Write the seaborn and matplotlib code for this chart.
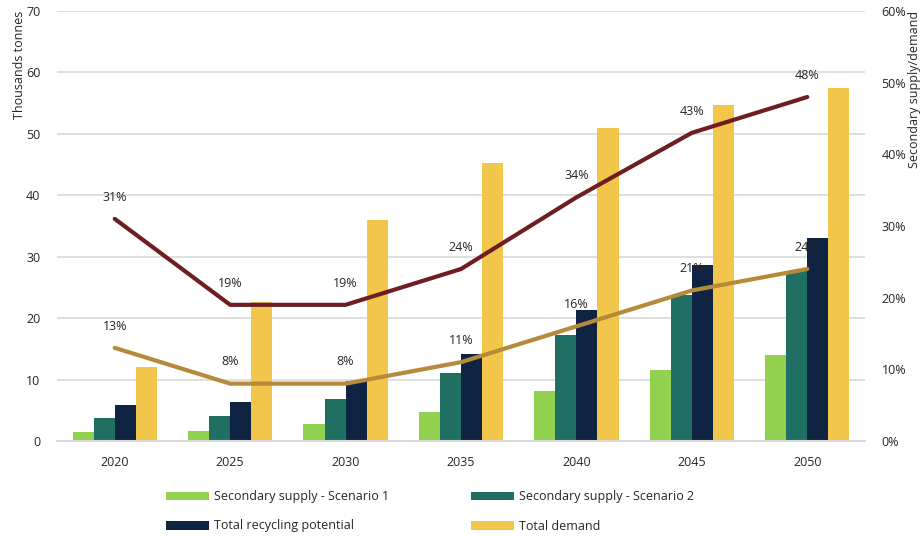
import numpy as np
import pandas as pd
import matplotlib
matplotlib.use("Agg")
import matplotlib.pyplot as plt
import seaborn as sns

years = ["2020", "2025", "2030", "2035", "2040", "2045", "2050"]
supply_s1 = [1.5, 1.7, 2.8, 4.8, 8.1, 11.6, 14.0]
supply_s2 = [3.7, 4.1, 6.9, 11.0, 17.3, 23.7, 27.7]
recycling_potential = [5.9, 6.3, 9.8, 14.2, 21.4, 28.7, 33.1]
total_demand = [12.1, 22.6, 35.9, 45.2, 51.0, 54.7, 57.5]
ratio_s2 = [31, 19, 19, 24, 34, 43, 48]
ratio_s1 = [13, 8, 8, 11, 16, 21, 24]

series_names = ["Secondary supply - Scenario 1", "Secondary supply - Scenario 2",
                "Total recycling potential", "Total demand"]
series_values = [supply_s1, supply_s2, recycling_potential, total_demand]
bar_colors = ["#92D050", "#1F7063", "#0E2442", "#F2C54B"]

df = pd.DataFrame({
    "year": np.repeat([years], 4, axis=0).ravel(),
    "series": np.repeat(series_names, len(years)),
    "value": np.concatenate(series_values),
})

sns.set_theme(style="white")
plt.rcParams["font.family"] = ["Open Sans", "DejaVu Sans"]
text_color = "#262626"
fs = 9

fig = plt.figure(figsize=(9.24, 5.36), dpi=100)
ax = fig.add_axes([57 / 924, 1 - 441 / 536, 808 / 924, 430 / 536])

sns.barplot(data=df, x="year", y="value", hue="series", hue_order=series_names,
            palette=bar_colors, width=0.73, gap=0, saturation=1, ax=ax,
            legend=True, edgecolor="none")

ax.set_ylim(0, 70)
ax.set_yticks(range(0, 71, 10))
ax.set_xlim(-0.5, len(years) - 0.5)
ax.grid(axis="y", color="#D9D9D9", linewidth=1.2)
ax.set_axisbelow(True)
for s in ["top", "right", "left"]:
    ax.spines[s].set_visible(False)
ax.spines["bottom"].set_color("#D9D9D9")
ax.spines["bottom"].set_linewidth(1.5)
ax.tick_params(axis="both", length=0, labelsize=fs, colors=text_color)
ax.tick_params(axis="x", pad=11)
ax.tick_params(axis="y", pad=12)
ax.set_xlabel("")
ax.set_ylabel("Thousands tonnes", fontsize=fs, color=text_color, labelpad=0, loc="top")

handles, labels = ax.get_legend_handles_labels()
ax.get_legend().remove()

ax2 = ax.twinx()
xpos = np.arange(len(years))
sns.lineplot(x=xpos, y=ratio_s2, color="#6E1E22", linewidth=3, ax=ax2)
sns.lineplot(x=xpos, y=ratio_s1, color="#B58A3B", linewidth=3, ax=ax2)
ax2.set_ylim(0, 60)
ax2.set_yticks(range(0, 61, 10))
ax2.set_yticklabels([f"{v}%" for v in range(0, 61, 10)])
ax2.set_xlim(-0.5, len(years) - 0.5)
for s in ["top", "right", "left", "bottom"]:
    ax2.spines[s].set_visible(False)
ax2.tick_params(axis="y", length=0, labelsize=fs, colors=text_color, pad=12)
ax2.set_ylabel("Secondary supply/demand", fontsize=fs, color=text_color,
               labelpad=1, loc="top")

for xi, v in zip(xpos, ratio_s2):
    ax2.annotate(f"{v}%", (xi, v), xytext=(0, 11), textcoords="offset points",
                 ha="center", va="bottom", fontsize=fs, color=text_color)
for xi, v in zip(xpos, ratio_s1):
    ax2.annotate(f"{v}%", (xi, v), xytext=(0, 11), textcoords="offset points",
                 ha="center", va="bottom", fontsize=fs, color=text_color)

# two columns, filled row by row
order = [0, 2, 1, 3]
fig.legend([handles[i] for i in order], [labels[i] for i in order],
           loc="upper left", bbox_to_anchor=(155 / 924, 1 - 479 / 536),
           ncol=2, frameon=False, fontsize=fs, handlelength=3.4, handleheight=0.7,
           handletextpad=0.4, columnspacing=6.6, labelspacing=1.3,
           labelcolor=text_color)

fig.savefig("out.png", dpi=100)
